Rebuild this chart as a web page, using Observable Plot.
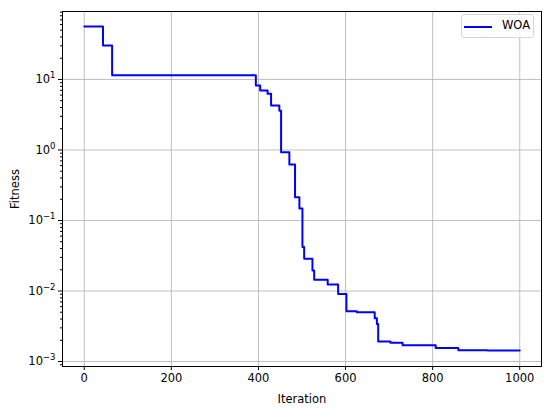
<!DOCTYPE html>
<html>
<head>
<meta charset="utf-8">
<script src="https://cdn.jsdelivr.net/npm/d3@7"></script>
<script src="https://cdn.jsdelivr.net/npm/@observablehq/plot@0.6"></script>
<style>
  html, body { margin: 0; padding: 0; background: #fff; }
  #wrap { position: relative; width: 550px; height: 410px; font-family: "DejaVu Sans", sans-serif; }
  #legend { position: absolute; left: 461px; top: 14px; width: 73px; height: 24px; border: 1px solid #d6d6d6; border-radius: 3px; background: rgba(255,255,255,0.8); box-sizing: border-box; }
  #legend .sw { position: absolute; left: 2px; top: 11px; width: 28px; height: 2px; background: #0000ff; }
  #legend .lb { position: absolute; left: 40px; top: 3px; font-size: 11.5px; color: #000; }
</style>
</head>
<body>
<div id="wrap"></div>
<script>
const iterations = [0, 43, 64, 394, 404, 421, 429, 448, 452, 471, 484, 494, 501, 505, 524, 528, 559, 583, 602, 626, 667, 672, 675, 703, 731, 807, 859, 926, 1000];
const fitness = [56.5, 30.3, 11.5, 8.2, 6.98, 6.27, 4.27, 3.6, 0.93, 0.62, 0.214, 0.148, 0.042, 0.0286, 0.0195, 0.0144, 0.0124, 0.0091, 0.00516, 0.0050, 0.0041, 0.0034, 0.00192, 0.00185, 0.0017, 0.00156, 0.00145, 0.00143, 0.00143];
const xTicks = [0, 200, 400, 600, 800, 1000];
const yTicks = [1e-3, 1e-2, 1e-1, 1e0, 1e1];
const seriesName = "WOA";

const data = iterations.map((it, i) => ({iteration: it, fitness: fitness[i]}));
const minorY = [];
for (let e = -4; e <= 1; e++) for (let m = 2; m <= 9; m++) {
  const v = m * Math.pow(10, e);
  if (v >= 0.00085 && v <= 92) minorY.push(v);
}
const fmtPow = v => "10^" + Math.round(Math.log10(v));

const chart = Plot.plot({
  width: 550,
  height: 410,
  marginLeft: 62,
  marginRight: 9,
  marginTop: 11,
  marginBottom: 44,
  style: {fontFamily: "DejaVu Sans, sans-serif", fontSize: "11.5px", color: "#000", background: "#fff"},
  x: {domain: [-50, 1050]},
  y: {type: "log", domain: [0.00085, 92]},
  marks: [
    Plot.gridX(xTicks, {stroke: "#b0b0b0", strokeOpacity: 1, strokeWidth: 0.8}),
    Plot.gridY(yTicks, {stroke: "#b0b0b0", strokeOpacity: 1, strokeWidth: 0.8}),
    Plot.axisX({ticks: xTicks, tickSize: 4, tickPadding: 3, tickFormat: d => String(d), label: "Iteration", labelAnchor: "center", labelArrow: "none", labelOffset: 36, fontSize: 11.5}),
    Plot.axisY({ticks: yTicks, tickSize: 4, tickPadding: 3, tickFormat: fmtPow, label: "Fitness", labelAnchor: "center", labelArrow: "none", labelOffset: 52, fontSize: 11.5}),
    Plot.axisY({ticks: minorY, tickSize: 2, tickFormat: null, label: null, text: null}),
    Plot.line(data, {x: "iteration", y: "fitness", curve: "step-after", stroke: "#0000ff", strokeWidth: 2}),
    Plot.frame({stroke: "#000", strokeWidth: 1})
  ]
});
// render y tick labels as 10 with a raised exponent
chart.querySelectorAll("text").forEach(t => {
  const s = t.textContent;
  const m = /^10\^(-?\d+)$/.exec(s);
  if (!m) return;
  t.textContent = "";
  const ns = "http://www.w3.org/2000/svg";
  const base = document.createElementNS(ns, "tspan");
  base.textContent = "10";
  const ex = document.createElementNS(ns, "tspan");
  ex.textContent = m[1].replace("-", "\u2212");
  ex.setAttribute("dy", "-5");
  ex.setAttribute("font-size", "8.5");
  t.appendChild(base);
  t.appendChild(ex);
});
const wrap = document.getElementById("wrap");
wrap.appendChild(chart);
const leg = document.createElement("div");
leg.id = "legend";
leg.innerHTML = '<div class="sw"></div><div class="lb">' + seriesName + '</div>';
wrap.appendChild(leg);
</script>
</body>
</html>
